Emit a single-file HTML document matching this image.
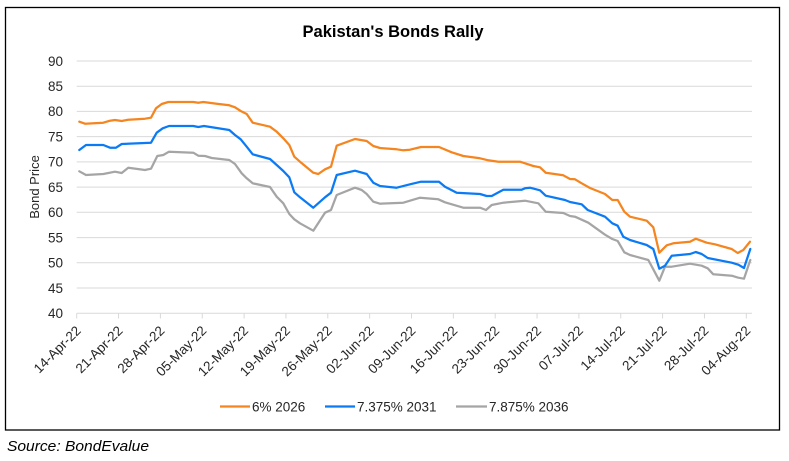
<!DOCTYPE html>
<html>
<head>
<meta charset="utf-8">
<style>
html,body{margin:0;padding:0;background:#fff;}
svg{display:block;}
text{font-family:"Liberation Sans",Arial,sans-serif;}
</style>
</head>
<body>
<svg width="789" height="461" viewBox="0 0 789 461" xmlns="http://www.w3.org/2000/svg">
<rect x="0" y="0" width="789" height="461" fill="#fff"/>
<rect x="5.5" y="7.5" width="774" height="422.5" fill="#fff" stroke="#000" stroke-width="1.3"/>

<text x="393" y="37" text-anchor="middle" font-size="17" font-weight="bold" fill="#000" textLength="181" lengthAdjust="spacingAndGlyphs">Pakistan's Bonds Rally</text>

<!-- gridlines -->
<g stroke="#D9D9D9" stroke-width="1">
<line x1="76.7" x2="752" y1="61" y2="61"/>
<line x1="76.7" x2="752" y1="86.2" y2="86.2"/>
<line x1="76.7" x2="752" y1="111.4" y2="111.4"/>
<line x1="76.7" x2="752" y1="136.6" y2="136.6"/>
<line x1="76.7" x2="752" y1="161.9" y2="161.9"/>
<line x1="76.7" x2="752" y1="187.1" y2="187.1"/>
<line x1="76.7" x2="752" y1="212.3" y2="212.3"/>
<line x1="76.7" x2="752" y1="237.6" y2="237.6"/>
<line x1="76.7" x2="752" y1="262.8" y2="262.8"/>
<line x1="76.7" x2="752" y1="288" y2="288"/>
<line x1="76.7" x2="752" y1="313.3" y2="313.3"/>
</g>
<!-- ticks -->
<g stroke="#D9D9D9" stroke-width="1">
<line x1="76.7" x2="76.7" y1="313.3" y2="318.5"/>
<line x1="118.55" x2="118.55" y1="313.3" y2="318.5"/>
<line x1="160.4" x2="160.4" y1="313.3" y2="318.5"/>
<line x1="202.25" x2="202.25" y1="313.3" y2="318.5"/>
<line x1="244.1" x2="244.1" y1="313.3" y2="318.5"/>
<line x1="285.95" x2="285.95" y1="313.3" y2="318.5"/>
<line x1="327.8" x2="327.8" y1="313.3" y2="318.5"/>
<line x1="369.65" x2="369.65" y1="313.3" y2="318.5"/>
<line x1="411.5" x2="411.5" y1="313.3" y2="318.5"/>
<line x1="453.35" x2="453.35" y1="313.3" y2="318.5"/>
<line x1="495.2" x2="495.2" y1="313.3" y2="318.5"/>
<line x1="537.05" x2="537.05" y1="313.3" y2="318.5"/>
<line x1="578.9" x2="578.9" y1="313.3" y2="318.5"/>
<line x1="620.75" x2="620.75" y1="313.3" y2="318.5"/>
<line x1="662.6" x2="662.6" y1="313.3" y2="318.5"/>
<line x1="704.45" x2="704.45" y1="313.3" y2="318.5"/>
<line x1="746.3" x2="746.3" y1="313.3" y2="318.5"/>
</g>

<!-- y labels -->
<g font-size="13.5" fill="#262626" text-anchor="end">
<text x="63" y="65.8">90</text>
<text x="63" y="91">85</text>
<text x="63" y="116.2">80</text>
<text x="63" y="141.4">75</text>
<text x="63" y="166.7">70</text>
<text x="63" y="191.9">65</text>
<text x="63" y="217.1">60</text>
<text x="63" y="242.4">55</text>
<text x="63" y="267.6">50</text>
<text x="63" y="292.8">45</text>
<text x="63" y="318.1">40</text>
</g>

<text transform="translate(39,187) rotate(-90)" text-anchor="middle" font-size="13" fill="#262626">Bond Price</text>

<!-- x labels -->
<g font-size="13.5" fill="#262626" text-anchor="end">
<text transform="translate(81.7,331.5) rotate(-45)">14-Apr-22</text>
<text transform="translate(123.55,331.5) rotate(-45)">21-Apr-22</text>
<text transform="translate(165.4,331.5) rotate(-45)">28-Apr-22</text>
<text transform="translate(207.25,331.5) rotate(-45)">05-May-22</text>
<text transform="translate(249.1,331.5) rotate(-45)">12-May-22</text>
<text transform="translate(290.95,331.5) rotate(-45)">19-May-22</text>
<text transform="translate(332.8,331.5) rotate(-45)">26-May-22</text>
<text transform="translate(374.65,331.5) rotate(-45)">02-Jun-22</text>
<text transform="translate(416.5,331.5) rotate(-45)">09-Jun-22</text>
<text transform="translate(458.35,331.5) rotate(-45)">16-Jun-22</text>
<text transform="translate(500.2,331.5) rotate(-45)">23-Jun-22</text>
<text transform="translate(542.05,331.5) rotate(-45)">30-Jun-22</text>
<text transform="translate(583.9,331.5) rotate(-45)">07-Jul-22</text>
<text transform="translate(625.75,331.5) rotate(-45)">14-Jul-22</text>
<text transform="translate(667.6,331.5) rotate(-45)">21-Jul-22</text>
<text transform="translate(709.45,331.5) rotate(-45)">28-Jul-22</text>
<text transform="translate(751.3,331.5) rotate(-45)">04-Aug-22</text>
</g>

<!-- series -->
<g fill="none" stroke-width="2.25" stroke-linejoin="round" stroke-linecap="round">
<polyline stroke="#A5A5A5" points="79.3,171.3 86,175 103.3,174 115,171.7 121.7,173 128.3,167.7 145,170 151,168.7 157.3,156 163.3,155 169,151.7 193.3,152.7 198.3,155.7 205,156 211.7,158 229.3,160 235,164 241.7,173.3 246.7,178.3 252.7,183.3 270,187 276.7,196.7 283.3,203.3 289.3,214 294.3,219.3 300,223.3 313.3,230.7 325,212.7 331,210 336.7,195 355,187.7 361.7,190 366.7,194 373.3,201.7 380,203.7 403.3,202.7 420,197.7 438.3,199.3 445,202.3 463.3,207.7 480,207.7 486,210 491.7,205 503.3,202.7 525,200.7 538.3,203.3 545.7,211.7 563.3,213 570,216 575,216.7 588.3,222.7 605,234.7 612.3,239 617.7,241 624.3,252.3 630,255 648.3,260 653.3,269.3 659.3,280.7 665,266.7 671.7,266.7 690,263.7 701.7,265.7 707.7,268.3 713.3,274.3 731.7,275.7 738.3,277.7 744,278.7 750.3,260"/>
<polyline stroke="#0A7BF5" points="79.3,150 86,145 103.3,145 110,147.7 116,147.7 121.7,144 151,142.7 156.7,132.7 162.7,128.3 169,126 193.3,126 198.3,127 204,126 216.7,128 229.3,130 235,135 240.7,139.3 246.7,146.7 252.7,154.3 270,159 276.7,165 283.3,171 289.3,177.3 294.3,192.3 300,197.3 313.3,207.7 325,197.3 331,192.7 336.7,175 355,170.7 366.7,174 373.3,182.7 380,186 396.7,187.7 410,184.3 421,181.7 439,181.7 445,186.7 456.7,192.7 480,194 486.7,196 491.7,196 503.3,189.7 521.7,189.7 525,188.3 530,187.7 540,190.3 545.7,195.7 565,200 570,202 581.7,204.3 587.7,210 605,216.7 612.3,223.3 617.7,225.7 623.3,236.7 630,240 646.7,245 653.3,249 659.3,268.7 665,265.7 671.7,255.7 690,254 695.7,252 701.7,254 707.7,258 731.7,262.7 738.3,264.7 744,268 750.3,249"/>
<polyline stroke="#F5851F" points="79.3,121.7 85,123.7 103.3,122.7 110,120.7 115,120 121.7,121 128.3,119.7 145,118.7 151,117.7 156,108.3 161.7,104 168.3,102 193.3,102 198.3,102.7 203.3,102 216.7,103.7 229.3,105.3 235,107.3 240.7,111 246.7,114 252.7,122.7 270,126.7 276.7,131.7 283.3,138.3 289.3,145 294.3,156.7 300,161.7 313.3,172.7 318.3,174 325,169.3 331,166.7 336.7,145.7 355,139 366.7,141 373.3,146 380,148 396.7,149.3 403.3,150.3 410,149.7 421,147 439,147 451.7,152.3 463.3,156 480,158.3 488.3,160.3 498.3,161.7 520,161.7 525,163.3 533.3,166 540,167.3 545.7,172.7 563.3,175.3 570,179 575,179.3 581.7,183.3 590,188 605,194 612.3,200 617.7,200 624.3,211.7 630,216.7 646.7,220.7 653.3,227.3 659.3,252.7 666.7,245.3 673.3,243.3 690,241.7 695.7,238.7 706.7,242.7 715,244.3 731.7,249 737.7,253 743.3,250 750,241.7"/>
</g>

<!-- legend -->
<g stroke-width="2.25">
<line x1="220" x2="250" y1="406.5" y2="406.5" stroke="#F5851F"/>
<line x1="325" x2="355" y1="406.5" y2="406.5" stroke="#0A7BF5"/>
<line x1="456" x2="487" y1="406.5" y2="406.5" stroke="#A5A5A5"/>
</g>
<g font-size="13.5" fill="#262626">
<text x="252" y="411.3">6% 2026</text>
<text x="357" y="411.3">7.375% 2031</text>
<text x="489" y="411.3">7.875% 2036</text>
</g>

<text x="7" y="451" font-size="15" font-style="italic" fill="#000" textLength="142" lengthAdjust="spacingAndGlyphs">Source: BondEvalue</text>
</svg>
</body>
</html>
